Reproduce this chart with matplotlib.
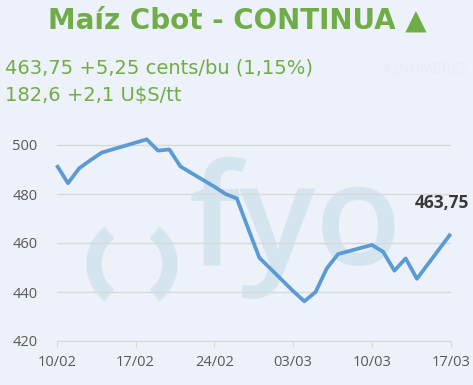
import pandas as pd
import matplotlib
matplotlib.use("Agg")
import matplotlib.pyplot as plt
import matplotlib.dates as mdates
from matplotlib.patches import Arc

# data (CBOT corn, cents/bu)
dates = ['2025-02-10', '2025-02-11', '2025-02-12', '2025-02-13', '2025-02-14',
         '2025-02-18', '2025-02-19', '2025-02-20', '2025-02-21', '2025-02-24',
         '2025-02-25', '2025-02-26', '2025-02-27', '2025-02-28', '2025-03-03',
         '2025-03-04', '2025-03-05', '2025-03-06', '2025-03-07', '2025-03-10',
         '2025-03-11', '2025-03-12', '2025-03-13', '2025-03-14', '2025-03-17']
prices = [491.8, 484.4, 490.5, 493.8, 496.9,
          502.3, 497.7, 498.2, 491.2, 483.0,
          480.0, 478.2, 466.0, 454.0, 440.4,
          436.2, 440.0, 449.7, 455.5, 459.2,
          456.4, 448.7, 453.7, 445.4, 463.75]
tick_dates = ['2025-02-10', '2025-02-17', '2025-02-24', '2025-03-03', '2025-03-10', '2025-03-17']
y_ticks = [420, 440, 460, 480, 500]

title = "Maíz Cbot - CONTINUA ▲"
line1 = "463,75 +5,25 cents/bu (1,15%)"
line2 = "182,6 +2,1 U$S/tt"
last_label = "463,75"

bg = "#edf1f9"
green = "#70ad47"
blue = "#5b9bd5"
wm = "#d5e5ef"

W, H = 473, 385
fig = plt.figure(figsize=(W / 100, H / 100), dpi=100, facecolor=bg)

# background layer in pixel coords for the watermark
bgax = fig.add_axes([0, 0, 1, 1], zorder=0)
bgax.set_xlim(0, W)
bgax.set_ylim(H, 0)
bgax.axis("off")
bgax.add_patch(Arc((134, 264), 80, 80, theta1=128, theta2=232, color=wm, lw=11))
bgax.add_patch(Arc((130, 264), 80, 80, theta1=-52, theta2=52, color=wm, lw=11))
bgax.text(189, 265, "fyo", fontsize=102, fontweight=600, family="Open Sans",
          color=wm, ha="left", va="baseline")

ax = fig.add_axes([56.7 / W, 44 / H, 394 / W, 220.5 / H], zorder=1)
ax.set_facecolor("none")

x = pd.to_datetime(dates)
ax.plot(x, prices, color=blue, lw=2.7, solid_joinstyle="round",
        solid_capstyle="butt", clip_on=False, zorder=3)

ax.set_xlim(pd.Timestamp(dates[0]), pd.Timestamp(dates[-1]))
ax.set_ylim(420, 510)
ax.set_yticks(y_ticks)
ax.set_xticks(pd.to_datetime(tick_dates))
ax.xaxis.set_major_formatter(mdates.DateFormatter("%d/%m"))

ax.grid(axis="y", color="#d9d9d9", lw=1)
ax.set_axisbelow(True)
for s in ["top", "right", "left"]:
    ax.spines[s].set_visible(False)
ax.spines["bottom"].set_color("#d9d9d9")
ax.tick_params(axis="x", length=4, color="#d9d9d9", pad=6,
               labelsize=10.5, labelcolor="#595959")
ax.tick_params(axis="y", length=0, pad=14, labelsize=10.5, labelcolor="#595959")
for lab in ax.get_xticklabels() + ax.get_yticklabels():
    lab.set_family("Open Sans")

ax.annotate(last_label, (x[-1], prices[-1]), xytext=(-6, 22),
            textcoords="offset points", ha="center", va="center",
            fontsize=12.5, fontweight="bold", family="Open Sans",
            color="#3a3a3a", annotation_clip=False)

fig.text(237 / W, 1 - 21 / H, title, ha="center", va="center",
         fontsize=20, fontweight="bold", color=green)
fig.text(5 / W, 1 - 68 / H, line1, ha="left", va="center", fontsize=14, color=green)
fig.text(5 / W, 1 - 95 / H, line2, ha="left", va="center", fontsize=14, color=green)
fig.text(381 / W, 1 - 69 / H, "#¿NOMBRE?", ha="left", va="center",
         fontsize=10, color="#e8ecf5")

fig.savefig("out.png", dpi=100, facecolor=bg)
